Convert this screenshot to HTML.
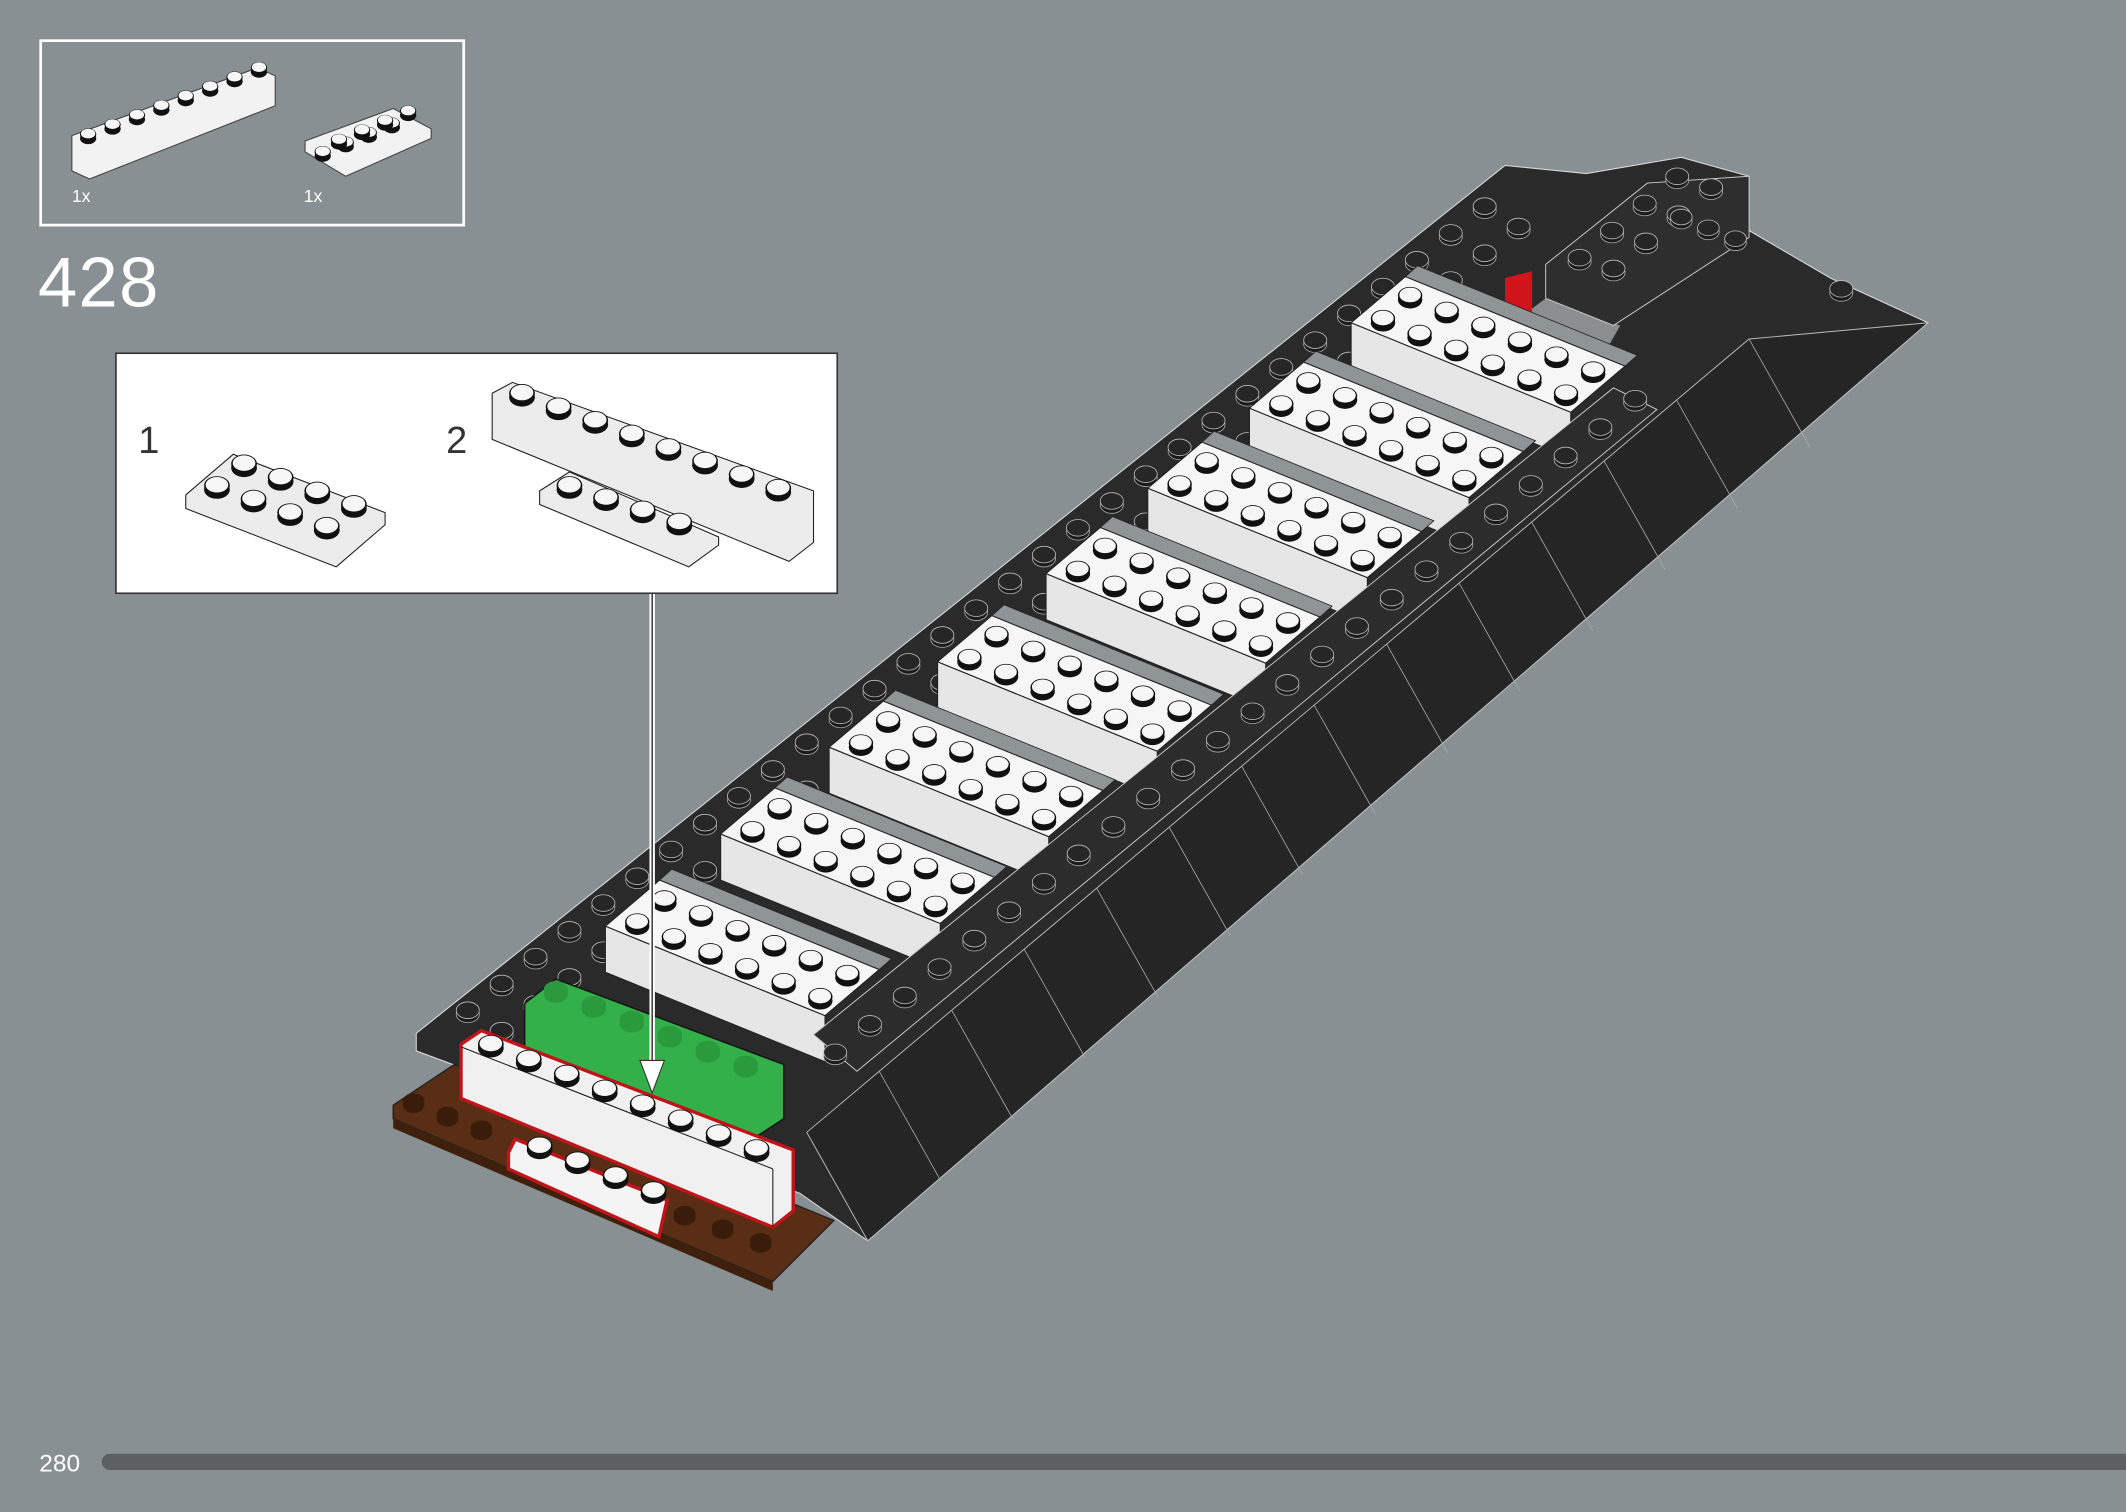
<!DOCTYPE html>
<html><head><meta charset="utf-8"><style>
html,body{margin:0;padding:0;background:#889094;}
svg{display:block}
text{font-family:"Liberation Sans",sans-serif}
</style></head><body>
<svg id="s" width="2126" height="1512" viewBox="0 0 1568 1115" preserveAspectRatio="none" xmlns="http://www.w3.org/2000/svg">
<rect width="1568" height="1115" fill="#889094"/>
<rect x="30" y="30" width="312" height="136" fill="none" stroke="#fff" stroke-width="2"/>
<polygon points="53,100 190,50 203,56 203,78 66,132 53,126" fill="#f2f2f2" stroke="#444" stroke-width="0.8"/>
<polygon points="225,104 290,80 318,95 318,102 255,130 225,112" fill="#f2f2f2" stroke="#444" stroke-width="0.8"/>
<text x="53" y="149" font-size="13" fill="#fff">1x</text>
<text x="224" y="149" font-size="13" fill="#fff">1x</text>
<text x="28" y="226" font-size="52" fill="#fff" font-weight="300" letter-spacing="1">428</text>
<rect x="85.5" y="260.5" width="532" height="177" fill="#fff" stroke="#333" stroke-width="1.2"/>
<text x="102" y="334" font-size="28" fill="#333">1</text>
<text x="329" y="334" font-size="28" fill="#333">2</text>
<polygon points="137,365 172,335 284,378 284,387 248,418 137,375" fill="#ececec" stroke="#222" stroke-width="0.8"/>
<polygon points="398,362 420,348 530,396 530,402 508,418 398,372" fill="#ececec" stroke="#222" stroke-width="0.8"/>
<polygon points="363,290 378,282 600,362 600,400 582,414 363,324" fill="#ececec" stroke="#222" stroke-width="0.8"/>
<g id="calloutStuds"></g>
<polygon points="307,762 1110,122 1170,128 1240,116 1290,130 1290,170 1350,205 1422,238 640,915 590,880 307,775" fill="#2a2a2a" stroke="#d8d8d8" stroke-width="0.8"/>
<polygon points="595,835 1290,250 1422,238 640,915" fill="#252525" stroke="#bbb" stroke-width="0.7"/>
<g stroke="#aaa" stroke-width="0.6" fill="none" id="slopeLines"></g>
<polygon points="1120,235 1140,220 1195,240 1175,275" fill="#8a8e90"/>
<polygon points="1140,195 1215,135 1290,130 1290,175 1190,240 1140,220" fill="#2e2e2e" stroke="#ccc" stroke-width="0.7"/>
<polygon points="1110,205 1130,200 1130,245 1110,250" fill="#d0141a"/>
<g id="darkStuds"></g>
<g id="rows"></g>
<polygon points="600,763 1190,286 1222,302 632,790" fill="#2c2c2c" stroke="#ccc" stroke-width="0.7"/>
<g id="wallStuds"></g>
<polygon points="290,815 335,785 615,900 570,945 290,825" fill="#5a2e14" stroke="#222" stroke-width="1"/>
<polygon points="290,825 570,945 570,952 290,832" fill="#3f200c"/>
<g id="brownStuds"></g>
<polygon points="387,740 410,722 578,785 578,825 555,840 387,775" fill="#33b04a" stroke="#111" stroke-width="1"/>
<polygon points="375,850 380,840 492,885 486,912 375,862" fill="#f4f4f4" stroke="#c0141a" stroke-width="2.5"/>
<polygon points="340,770 355,760 585,848 585,893 570,905 340,810" fill="#f0f0f0" stroke="#c0141a" stroke-width="2.5"/>
<line x1="340" y1="772" x2="570" y2="862" stroke="#222" stroke-width="0.8"/>
<line x1="570" y1="862" x2="570" y2="905" stroke="#222" stroke-width="0.8"/>
<g id="frontStuds"></g>
<line x1="481" y1="438" x2="481" y2="790" stroke="#fff" stroke-width="4"/>
<line x1="481" y1="438" x2="481" y2="790" stroke="#222" stroke-width="1"/>
<polygon points="472,782 490,782 481,806" fill="#fff" stroke="#333" stroke-width="0.8"/>
<text x="29" y="1085" font-size="18" fill="#fff">280</text>
<rect x="75" y="1072" width="1500" height="12" rx="6" fill="#5c6062"/>
</svg>
<script>
const NS="http://www.w3.org/2000/svg";
function el(p,t,a){const e=document.createElementNS(NS,t);for(const k in a)e.setAttribute(k,a[k]);document.getElementById(p).appendChild(e);return e;}
function stud(p,x,y,r,dark,col){
 el(p,'ellipse',{cx:x,cy:y+3,rx:r,ry:r*0.72,fill:dark?'#1b1b1b':(col||'#111'),stroke:dark?'#aaa':'none','stroke-width':0.6});
 el(p,'ellipse',{cx:x,cy:y,rx:r,ry:r*0.72,fill:dark?'#262626':(col?col:'#111'),stroke:dark?'#bbb':'none','stroke-width':0.6});
 if(!dark&&!col) el(p,'ellipse',{cx:x,cy:y-0.5,rx:r*0.88,ry:r*0.6,fill:'#f6f6f6'});
}
const a=[27,11], b=[20,-17], N=6;
const firsts=[[470,680],[555,612],[635,548],[715,485],[795,420],[870,357],[945,298],[1020,235]];
for(let i=firsts.length-1;i>=0;i--){
 const s=firsts[i]; const O=[s[0]-a[0]/2-b[0]/2,s[1]-a[1]/2-b[1]/2];
 const p1=O,p2=[O[0]+N*a[0],O[1]+N*a[1]],p3=[p2[0]+2*b[0],p2[1]+2*b[1]],p4=[O[0]+2*b[0],O[1]+2*b[1]];
 el('rows','polygon',{points:[[p4[0],p4[1]],[p3[0],p3[1]],[p3[0]+9,p3[1]-8],[p4[0]+9,p4[1]-8]].map(p=>p.join(',')).join(' '),fill:'#8f9496',stroke:'#222','stroke-width':0.6});
 el('rows','polygon',{points:[p1,p2,[p2[0],p2[1]+34],[p1[0],p1[1]+34]].map(p=>p.join(',')).join(' '),fill:'#e6e6e6',stroke:'#222','stroke-width':0.8});
 el('rows','polygon',{points:[p1,p2,p3,p4].map(p=>p.join(',')).join(' '),fill:'#f6f6f6',stroke:'#222','stroke-width':0.8});
 for(let r=1;r>=0;r--)for(let j=0;j<N;j++){stud('rows',s[0]+j*a[0]+r*b[0],s[1]+j*a[1]+r*b[1],9);}
}
for(let k=0;k<31;k++){const t=k/30;stud('darkStuds',345+t*(1095-345),745+t*(152-745),8.5,true);
 stud('darkStuds',370+t*(1120-370),760+t*(167-760),8.5,true);}
for(let k=0;k<4;k++){stud('darkStuds',1165+k*24,190-k*20,8.5,true);stud('darkStuds',1190+k*24,198-k*20,8.5,true);}
for(let k=0;k<3;k++){stud('darkStuds',1240+k*20,160+k*8,8,true);}
stud('darkStuds',1358,213,8.5,true);
for(let k=0;k<24;k++){const t=k/23;stud('wallStuds',616+t*(1206-616),776+t*(294-776),8.5,true);}
for(let k=0;k<14;k++){const t=k/13;const x=595+t*(1290-595),y=835+t*(250-835);
 el('slopeLines','line',{x1:x,y1:y,x2:x+45,y2:y+80});}
for(let j=0;j<6;j++)stud('frontStuds',410+j*28,730+j*11,9,false,'#2a9a3c');
for(let j=0;j<3;j++){stud('brownStuds',305+j*25,812+j*10,8,false,'#3a1c0a');stud('brownStuds',505+j*28,895+j*10,8,false,'#3a1c0a');}
for(let j=0;j<8;j++)stud('frontStuds',362+j*28,770+j*11,9.5);
for(let j=0;j<4;j++)stud('frontStuds',398+j*28,845+j*11,9.5);
for(let j=0;j<8;j++)stud('calloutStuds',385+j*27,290+j*10,9.5);
for(let j=0;j<4;j++)stud('calloutStuds',420+j*27,358+j*9,9.5);
for(let r=0;r<2;r++)for(let j=0;j<4;j++)stud('calloutStuds',160+j*27+r*20,358+j*10-r*16,9.5);
for(let j=0;j<8;j++)stud('calloutStuds',65+j*18,99-j*7,6);
for(let r=0;r<2;r++)for(let j=0;j<4;j++)stud('calloutStuds',238+j*17+r*12,112-j*7-r*9,6);
</script>
</body></html>
